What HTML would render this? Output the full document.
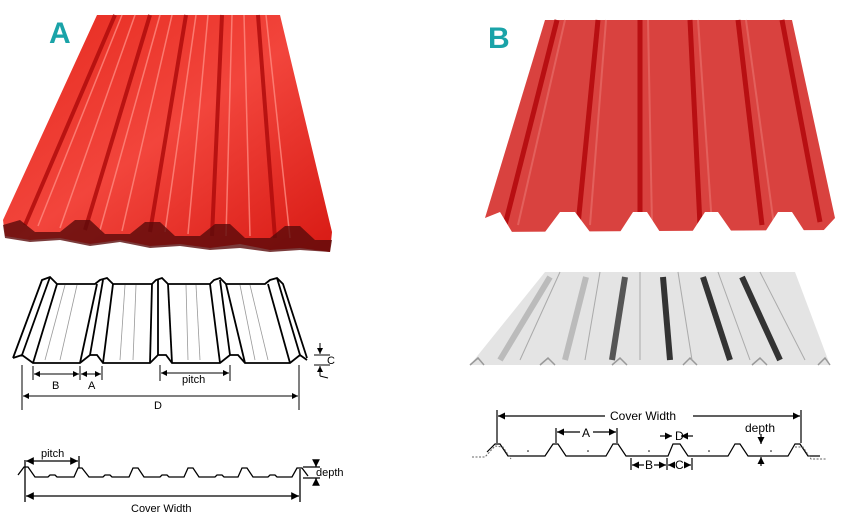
<!DOCTYPE html>
<html><head><meta charset="utf-8"><style>
html,body{margin:0;padding:0;background:#fff;}
svg{display:block;font-family:"Liberation Sans",sans-serif;}
</style></head><body>
<svg width="844" height="522" viewBox="0 0 844 522" xmlns="http://www.w3.org/2000/svg">
<defs>
<marker id="ar" markerWidth="6" markerHeight="6" refX="6" refY="3" orient="auto"><path d="M0,0 L6,3 L0,6 z" fill="#000"/></marker>
<marker id="al" markerWidth="6" markerHeight="6" refX="0" refY="3" orient="auto"><path d="M6,0 L0,3 L6,6 z" fill="#000"/></marker>
<linearGradient id="ga" x1="0" y1="0" x2="1" y2="1"><stop offset="0" stop-color="#e62a1f"/><stop offset="0.5" stop-color="#f2453c"/><stop offset="1" stop-color="#d81a14"/></linearGradient>
</defs>
<!-- Sheet A -->
<polygon points="97,15 280,15 332,232 330,252 300,248 270,250 240,244 210,248 180,244 150,246 120,240 90,244 60,238 30,240 5,236 3,220" fill="url(#ga)"/>
<g stroke="#b00c0c" stroke-width="4" opacity="0.85">
<line x1="115" y1="15" x2="25" y2="225"/><line x1="150" y1="15" x2="85" y2="230"/><line x1="186" y1="15" x2="150" y2="232"/><line x1="222" y1="15" x2="212" y2="236"/><line x1="258" y1="15" x2="275" y2="238"/></g>
<g stroke="#ff8a80" stroke-width="1.5" opacity="0.8">
<line x1="122" y1="15" x2="38" y2="226"/><line x1="160" y1="15" x2="100" y2="230"/><line x1="196" y1="15" x2="165" y2="232"/><line x1="232" y1="15" x2="226" y2="236"/><line x1="266" y1="15" x2="290" y2="238"/>
<line x1="135" y1="15" x2="60" y2="228"/><line x1="172" y1="15" x2="122" y2="231"/><line x1="208" y1="15" x2="188" y2="234"/><line x1="244" y1="15" x2="250" y2="236"/></g>
<path d="M3,225 L20,220 L35,232 L60,232 L75,220 L90,220 L105,234 L130,234 L145,222 L160,222 L175,236 L200,236 L215,224 L230,224 L245,238 L270,238 L285,226 L300,226 L315,240 L332,240 L330,252 L300,250 L270,252 L240,248 L210,250 L180,246 L150,248 L120,242 L90,246 L60,240 L30,242 L5,238 Z" fill="#5a0a0a" opacity="0.8"/>
<text x="49" y="43" font-size="30" font-weight="bold" fill="#1aa3a8">A</text>
<!-- Sheet B -->
<polygon points="545,20 792,20 835,218 835,230 485,232 485,218" fill="#d9423f"/>
<g stroke="#b80f12" stroke-width="5">
<line x1="557" y1="20" x2="505" y2="225"/><line x1="598" y1="20" x2="578" y2="225"/><line x1="640" y1="20" x2="640" y2="225"/><line x1="690" y1="20" x2="700" y2="225"/><line x1="738" y1="20" x2="762" y2="225"/><line x1="782" y1="20" x2="820" y2="222"/></g>
<g stroke="#e3605c" stroke-width="2">
<line x1="565" y1="20" x2="518" y2="225"/><line x1="606" y1="20" x2="590" y2="225"/><line x1="648" y1="20" x2="652" y2="225"/><line x1="698" y1="20" x2="712" y2="225"/><line x1="746" y1="20" x2="774" y2="225"/></g>
<path d="M485,218 L500,212 L512,232 L545,232 L560,212 L575,212 L590,232 L620,232 L633,212 L647,212 L660,232 L692,232 L705,212 L718,212 L732,232 L765,232 L778,212 L792,212 L805,232 L822,232 L835,218 L835,236 L485,236Z" fill="#fff"/>
<text x="488" y="48" font-size="30" font-weight="bold" fill="#1aa3a8">B</text>
<!-- Diagram A line drawing -->
<g fill="none" stroke="#000" stroke-width="1.8">
<path d="M13,358 L22,355 L33,363 L80,363 L90,355 L97,355 L103,363 L150,363 L158,355 L166,355 L172,363 L220,363 L230,355 L238,355 L245,363 L290,363 L300,355 L307,360"/>
<path d="M13,358 L42,280 L50,277 L57,284 L95,284 L100,280 L107,278 L113,284 L152,284 L156,280 L162,278 L168,284 L210,284 L214,280 L220,278 L226,284 L265,284 L270,280 L277,278 L283,284 L307,358"/>
<line x1="22" y1="355" x2="50" y2="277"/><line x1="33" y1="363" x2="57" y2="284"/>
<line x1="80" y1="363" x2="97" y2="284"/><line x1="90" y1="355" x2="103" y2="280"/><line x1="103" y1="363" x2="113" y2="284"/>
<line x1="150" y1="363" x2="152" y2="284"/><line x1="158" y1="355" x2="158" y2="280"/><line x1="172" y1="363" x2="168" y2="284"/>
<line x1="220" y1="363" x2="210" y2="284"/><line x1="230" y1="355" x2="220" y2="280"/><line x1="245" y1="363" x2="226" y2="284"/>
<line x1="290" y1="363" x2="268" y2="284"/><line x1="300" y1="355" x2="277" y2="278"/>
</g>
<g stroke="#999" stroke-width="0.8">
<line x1="45" y1="360" x2="65" y2="285"/><line x1="60" y1="360" x2="77" y2="285"/><line x1="120" y1="360" x2="125" y2="285"/><line x1="133" y1="360" x2="136" y2="285"/>
<line x1="188" y1="360" x2="186" y2="285"/><line x1="200" y1="360" x2="196" y2="285"/><line x1="255" y1="360" x2="240" y2="285"/><line x1="268" y1="360" x2="250" y2="285"/></g>
<g stroke="#000" stroke-width="1" fill="none">
<line x1="22" y1="365" x2="22" y2="410"/><line x1="33" y1="366" x2="33" y2="380"/><line x1="80" y1="366" x2="80" y2="380"/><line x1="102" y1="366" x2="102" y2="380"/>
<line x1="34" y1="374" x2="79" y2="374" marker-start="url(#al)" marker-end="url(#ar)"/>
<line x1="81" y1="374" x2="101" y2="374" marker-start="url(#al)" marker-end="url(#ar)"/>
<line x1="160" y1="365" x2="160" y2="381"/><line x1="230" y1="365" x2="230" y2="381"/>
<line x1="161" y1="373" x2="229" y2="373" marker-start="url(#al)" marker-end="url(#ar)"/>
<line x1="299" y1="365" x2="299" y2="410"/>
<line x1="23" y1="396" x2="298" y2="396" marker-start="url(#al)" marker-end="url(#ar)"/>
<line x1="320" y1="343" x2="320" y2="354" marker-end="url(#ar)"/><line x1="320" y1="376" x2="320" y2="366" marker-end="url(#ar)"/>
<line x1="314" y1="355" x2="330" y2="355"/><line x1="314" y1="365" x2="330" y2="365"/><line x1="320" y1="376" x2="328" y2="378"/>
</g>
<g font-size="11" fill="#000"><text x="52" y="389">B</text><text x="88" y="389">A</text><text x="182" y="383">pitch</text><text x="154" y="409">D</text><text x="327" y="364">C</text></g>
<!-- profile A -->
<g stroke="#000" stroke-width="1.3" fill="none">
<path d="M18,475 L24,467 L28,467 L35,477 L48,477 L50,475 L55,475 L57,477 L74,477 L78,468 L82,468 L89,477 L103,477 L105,475 L110,475 L112,477 L129,477 L133,468 L138,468 L144,477 L160,477 L162,475 L167,475 L169,477 L184,477 L188,468 L193,468 L199,477 L215,477 L217,475 L222,475 L224,477 L238,477 L242,468 L247,468 L253,477 L268,477 L270,475 L275,475 L277,477 L292,477 L297,468 L302,468 L308,476"/>
<line x1="25" y1="460" x2="25" y2="502"/><line x1="79" y1="456" x2="79" y2="468"/><line x1="300" y1="469" x2="300" y2="502"/>
<line x1="26" y1="461" x2="78" y2="461" marker-start="url(#al)" marker-end="url(#ar)"/>
<line x1="26" y1="496" x2="299" y2="496" marker-start="url(#al)" marker-end="url(#ar)"/>
<line x1="303" y1="467" x2="320" y2="467"/><line x1="303" y1="478" x2="320" y2="478"/>
<line x1="316" y1="462" x2="316" y2="467" marker-end="url(#ar)"/><line x1="316" y1="483" x2="316" y2="478" marker-end="url(#ar)"/>
</g>
<g font-size="11" fill="#000"><text x="41" y="457">pitch</text><text x="316" y="476">depth</text><text x="131" y="512">Cover Width</text></g>
<!-- Sheet B gray -->
<polygon points="545,272 795,272 830,365 470,365" fill="#e4e4e4"/>
<g stroke="#999" stroke-width="1.5"><path d="M470,365 L478,358 L484,365 M540,365 L548,358 L555,365 M612,365 L620,358 L627,365 M683,365 L690,358 L697,365 M752,365 L760,358 L767,365 M818,365 L825,358 L830,365" fill="none"/></g>
<g stroke-width="6">
<line x1="550" y1="277" x2="500" y2="360" stroke="#bbb"/><line x1="586" y1="277" x2="565" y2="360" stroke="#bbb"/><line x1="625" y1="277" x2="612" y2="360" stroke="#555"/><line x1="663" y1="277" x2="670" y2="360" stroke="#333"/><line x1="703" y1="277" x2="730" y2="360" stroke="#333"/><line x1="742" y1="277" x2="780" y2="360" stroke="#333"/></g>
<g stroke="#aaa" stroke-width="1"><line x1="560" y1="272" x2="520" y2="360"/><line x1="600" y1="272" x2="585" y2="360"/><line x1="640" y1="272" x2="640" y2="360"/><line x1="678" y1="272" x2="692" y2="360"/><line x1="718" y1="272" x2="750" y2="360"/><line x1="760" y1="272" x2="805" y2="360"/></g>
<!-- profile B -->
<g stroke="#000" stroke-width="1.2" fill="none">
<path d="M487,452 L495,444 L500,444 L508,456 L545,456 L553,444 L558,444 L566,456 L606,456 L613,444 L618,444 L626,456 L668,456 L673,444 L680,444 L688,456 L728,456 L735,444 L740,444 L748,456 L788,456 L795,444 L800,444 L808,456 L820,456"/>
<line x1="497" y1="410" x2="497" y2="443"/><line x1="801" y1="410" x2="801" y2="443"/>
<line x1="498" y1="416" x2="605" y2="416" marker-start="url(#al)"/><line x1="693" y1="416" x2="800" y2="416" marker-end="url(#ar)"/>
<line x1="556" y1="428" x2="556" y2="443"/><line x1="617" y1="428" x2="617" y2="443"/>
<line x1="557" y1="432" x2="580" y2="432" marker-start="url(#al)"/><line x1="593" y1="432" x2="616" y2="432" marker-end="url(#ar)"/>
<line x1="660" y1="436" x2="672" y2="436" marker-end="url(#ar)"/><line x1="693" y1="436" x2="681" y2="436" marker-end="url(#ar)"/>
<line x1="631" y1="458" x2="631" y2="470"/><line x1="667" y1="458" x2="667" y2="470"/><line x1="692" y1="458" x2="692" y2="470"/>
<line x1="632" y1="465" x2="644" y2="465" marker-start="url(#al)"/><line x1="654" y1="465" x2="666" y2="465" marker-end="url(#ar)"/>
<line x1="668" y1="465" x2="675" y2="465" marker-start="url(#al)"/><line x1="684" y1="465" x2="691" y2="465" marker-end="url(#ar)"/>
<line x1="761" y1="434" x2="761" y2="444" marker-end="url(#ar)"/><line x1="761" y1="466" x2="761" y2="457" marker-end="url(#ar)"/>
</g>
<path d="M472,457 L485,457 L495,446 L503,447 L511,459 M795,447 L803,447 L811,459 L826,459" stroke="#666" stroke-width="1" stroke-dasharray="2,1.5" fill="none"/>
<g fill="#000"><circle cx="528" cy="451" r="0.8"/><circle cx="588" cy="451" r="0.8"/><circle cx="649" cy="451" r="0.8"/><circle cx="709" cy="451" r="0.8"/><circle cx="771" cy="451" r="0.8"/></g>
<g font-size="12" fill="#000"><text x="610" y="420">Cover Width</text><text x="582" y="437">A</text><text x="675" y="440">D</text><text x="745" y="432">depth</text><text x="645" y="469">B</text><text x="675" y="469">C</text></g>
</svg>
</body></html>
